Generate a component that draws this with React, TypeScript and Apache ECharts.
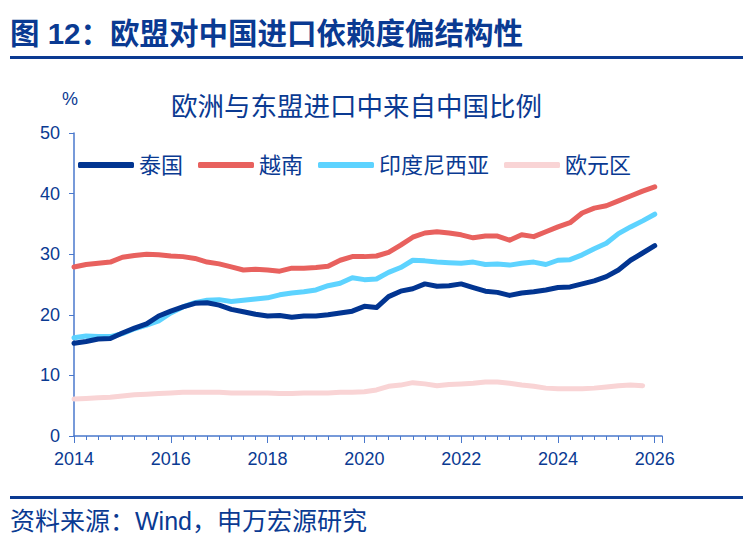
import React, { useEffect, useRef } from "react";
import * as echarts from "echarts";

const periods = [
  "2014-01", "2014-04", "2014-07", "2014-10",
  "2015-01", "2015-04", "2015-07", "2015-10",
  "2016-01", "2016-04", "2016-07", "2016-10",
  "2017-01", "2017-04", "2017-07", "2017-10",
  "2018-01", "2018-04", "2018-07", "2018-10",
  "2019-01", "2019-04", "2019-07", "2019-10",
  "2020-01", "2020-04", "2020-07", "2020-10",
  "2021-01", "2021-04", "2021-07", "2021-10",
  "2022-01", "2022-04", "2022-07", "2022-10",
  "2023-01", "2023-04", "2023-07", "2023-10",
  "2024-01", "2024-04", "2024-07", "2024-10",
  "2025-01", "2025-04", "2025-07", "2025-10",
  "2026-01",
];

const thailand = [
  15.3, 15.6, 16.0, 16.1, 17.0, 17.8, 18.5, 19.8, 20.6, 21.3, 21.9, 22.0,
  21.6, 20.9, 20.5, 20.1, 19.8, 19.9, 19.6, 19.8, 19.8, 20.0, 20.3, 20.6,
  21.4, 21.2, 23.0, 23.9, 24.3, 25.1, 24.7, 24.8, 25.1, 24.5, 23.9, 23.7,
  23.2, 23.6, 23.8, 24.1, 24.5, 24.6, 25.1, 25.6, 26.3, 27.4, 29.0, 30.2,
  31.4,
];
const vietnam = [
  27.9, 28.3, 28.5, 28.7, 29.5, 29.8, 30.0, 29.9, 29.7, 29.6, 29.3, 28.7,
  28.4, 27.9, 27.4, 27.5, 27.4, 27.2, 27.7, 27.7, 27.8, 28.0, 29.0, 29.6,
  29.6, 29.7, 30.3, 31.5, 32.8, 33.5, 33.7, 33.5, 33.2, 32.7, 33.0, 33.0,
  32.3, 33.2, 32.9, 33.7, 34.5, 35.2, 36.8, 37.6, 38.0, 38.8, 39.6, 40.4,
  41.1,
];
const indonesia = [
  16.2, 16.5, 16.4, 16.4, 16.9, 17.7, 18.3, 19.0, 20.3, 21.3, 22.0, 22.4,
  22.5, 22.2, 22.4, 22.6, 22.8, 23.3, 23.6, 23.8, 24.1, 24.8, 25.2, 26.1,
  25.8, 25.9, 27.0, 27.8, 29.0, 28.9, 28.7, 28.6, 28.5, 28.7, 28.3, 28.4,
  28.2, 28.5, 28.7, 28.3, 29.0, 29.1, 29.9, 30.9, 31.8, 33.4, 34.5, 35.5,
  36.6,
];
const euroArea = [
  6.1, 6.2, 6.3, 6.4, 6.6, 6.8, 6.9, 7.0, 7.1, 7.2, 7.2, 7.2,
  7.2, 7.1, 7.1, 7.1, 7.1, 7.0, 7.0, 7.1, 7.1, 7.1, 7.2, 7.2,
  7.3, 7.6, 8.2, 8.4, 8.8, 8.6, 8.3, 8.5, 8.6, 8.7, 8.9, 8.9,
  8.7, 8.4, 8.2, 7.9, 7.8, 7.8, 7.8, 7.9, 8.1, 8.3, 8.4, 8.3,
];

const seriesNames = ["泰国", "越南", "印度尼西亚", "欧元区"];
const seriesColors = ["#023591", "#E8615E", "#5DD3FF", "#F9D4D5"];
const yTicks = [0, 10, 20, 30, 40, 50];
const xTickYears = [2014, 2016, 2018, 2020, 2022, 2024, 2026];

const figTitle = "图 12：欧盟对中国进口依赖度偏结构性";
const chartTitle = "欧洲与东盟进口中来自中国比例";
const sourceNote = "资料来源：Wind，申万宏源研究";

const TEXT_BLUE = "#0A3A92";
const AXIS_BLUE = "#4A78CC";
const FONT = "'Liberation Sans', 'Noto Sans CJK SC', sans-serif";

function toYear(p: string): number {
  const [y, m] = p.split("-").map(Number);
  return y + (m - 1) / 12;
}

function pairs(values: number[]) {
  return values.map((v, i) => [toYear(periods[i]), v]);
}

export default function App() {
  const ref = useRef<HTMLDivElement>(null);
  useEffect(() => {
    if (!ref.current) return;
    const chart = echarts.init(ref.current, undefined, { renderer: "svg" });
    const allSeries = [thailand, vietnam, indonesia, euroArea];
    chart.setOption({
      animation: false,
      backgroundColor: "#ffffff",
      textStyle: { fontFamily: FONT },
      title: {
        text: chartTitle,
        left: 166,
        top: 89,
        textStyle: {
          color: TEXT_BLUE,
          fontSize: 26.5,
          fontWeight: "normal",
          fontFamily: FONT,
        },
      },
      legend: {
        left: 73,
        top: 149,
        itemWidth: 56,
        itemHeight: 6,
        itemGap: 15,
        icon: "roundRect",
        textStyle: { color: TEXT_BLUE, fontSize: 22, fontFamily: FONT, padding: [0, 0, 0, 0] },
        data: seriesNames,
      },
      grid: { left: 74, right: 91, top: 133, bottom: 109, containLabel: false },
      xAxis: {
        type: "value",
        min: xTickYears[0],
        max: 2026.15,
        interval: 2,
        axisLine: { show: true, lineStyle: { color: AXIS_BLUE, width: 1.5 } },
        axisTick: { show: true, length: 7, lineStyle: { color: AXIS_BLUE } },
        minorTick: { show: true, splitNumber: 8, length: 4, lineStyle: { color: AXIS_BLUE } },
        splitLine: { show: false },
        axisLabel: {
          color: TEXT_BLUE,
          fontSize: 18,
          margin: 14,
          fontFamily: FONT,
          formatter: (v: number) => (xTickYears.includes(Math.round(v * 100) / 100) ? String(v) : ""),
        },
      },
      yAxis: {
        type: "value",
        min: yTicks[0],
        max: yTicks[yTicks.length - 1],
        interval: 10,
        axisLine: { show: true, lineStyle: { color: AXIS_BLUE, width: 1.5 } },
        axisTick: { show: true, length: 5, lineStyle: { color: AXIS_BLUE } },
        splitLine: { show: false },
        axisLabel: { color: TEXT_BLUE, fontSize: 18, margin: 14, fontFamily: FONT },
      },
      series: allSeries.map((vals, i) => ({
        name: seriesNames[i],
        type: "line",
        data: pairs(vals),
        showSymbol: false,
        symbol: "none",
        z: 10 - i,
        lineStyle: { width: 5, color: seriesColors[i], cap: "round", join: "round" },
        itemStyle: { color: seriesColors[i] },
      })),
      graphic: [
        {
          type: "text",
          left: 10,
          top: 19,
          style: {
            text: figTitle,
            fill: TEXT_BLUE,
            font: `bold 29.5px ${FONT}`,
          },
        },
        {
          type: "rect",
          shape: { x: 10, y: 56, width: 733, height: 3 },
          style: { fill: "#0A3A92" },
        },
        {
          type: "text",
          left: 62,
          top: 90,
          style: { text: "%", fill: TEXT_BLUE, font: `18px ${FONT}` },
        },
        {
          type: "rect",
          shape: { x: 10, y: 496, width: 733, height: 3 },
          style: { fill: "#0A3A92" },
        },
        {
          type: "text",
          left: 10,
          top: 508,
          style: { text: sourceNote, fill: TEXT_BLUE, font: `25px ${FONT}` },
        },
      ],
    });
    return () => chart.dispose();
  }, []);
  return (
    <div
      ref={ref}
      style={{ position: "fixed", left: 0, top: 0, width: 753, height: 545 }}
    />
  );
}
